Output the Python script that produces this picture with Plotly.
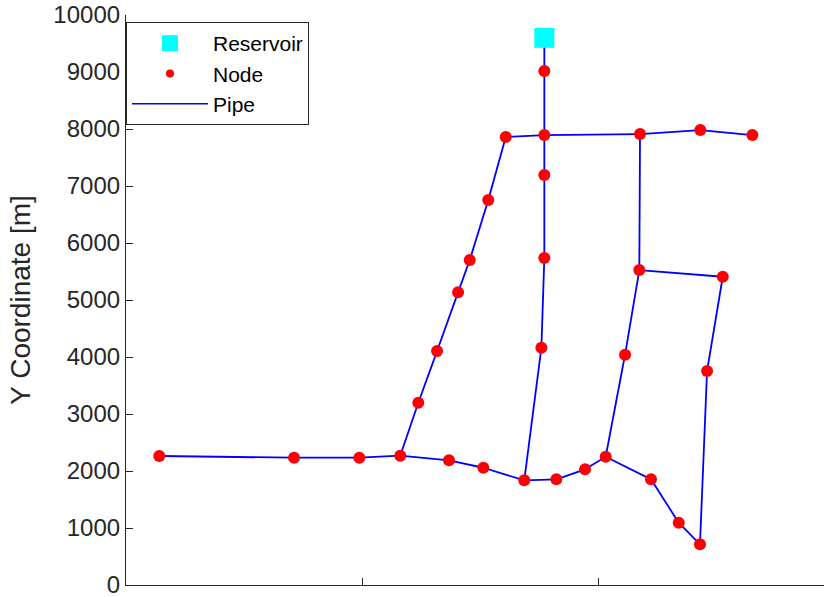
import plotly.graph_objects as go

# Reservoir
res_x = [3545]
res_y = [9600]

# Junction nodes (id -> coordinates)
node_ids = ["N1", "J2", "N3", "N4", "N5", "N6", "N7", "N8", "N9", "N10",
            "N11", "N12", "N13", "N14", "N15", "N16", "N17", "N18", "N19", "N20",
            "N21", "N22", "N23", "N24", "N25", "N26", "N27", "N28", "N29", "N30", "N31"]
node_x = [3545, 3545, 3218, 4356, 4867, 5308, 3545, 3070, 3545, 2913,
          2814, 3520, 2636, 2477, 2324, 282, 1424, 1977, 2737, 3028,
          3375, 3647, 3890, 4065, 4449, 4684, 4864, 4924, 5057, 4350, 4229]
node_y = [9016, 7893, 7858, 7911, 7981, 7893, 7191, 6753, 5736, 5701,
          5134, 4162, 4104, 3198, 2268, 2263, 2233, 2233, 2187, 2057,
          1836, 1854, 2029, 2250, 1854, 1093, 714, 3754, 5408, 5525, 4039]

# Pipes (start, end)
pipe_start = ["R", "N1", "J2", "J2", "N4", "N5", "J2", "N7", "N9", "N12",
              "N3", "N8", "N10", "N11", "N13", "N14", "N16", "N17", "N18", "N15",
              "N19", "N20", "N21", "N22", "N23", "N24", "N25", "N26", "N27", "N28",
              "N29", "N30", "N30", "N31"]
pipe_end = ["N1", "J2", "N3", "N4", "N5", "N6", "N7", "N9", "N12", "N21",
            "N8", "N10", "N11", "N13", "N14", "N15", "N17", "N18", "N15", "N19",
            "N20", "N21", "N22", "N23", "N24", "N25", "N26", "N27", "N28", "N29",
            "N30", "N4", "N31", "N24"]

y_ticks = list(range(0, 10001, 1000))
y_tick_labels = [str(v) for v in y_ticks]
x_ticks = [0, 2000, 4000]

coords = {"R": (res_x[0], res_y[0])}
for i, nid in enumerate(node_ids):
    coords[nid] = (node_x[i], node_y[i])

px, py = [], []
for a, b in zip(pipe_start, pipe_end):
    px += [coords[a][0], coords[b][0], None]
    py += [coords[a][1], coords[b][1], None]

FONT = "Liberation Sans, Arial, Helvetica, sans-serif"
AX = "#262626"

fig = go.Figure()
fig.add_trace(go.Scatter(x=px, y=py, mode="lines", line=dict(color="#0000FF", width=1.8),
                         showlegend=False, hoverinfo="skip"))
fig.add_trace(go.Scatter(x=node_x, y=node_y, mode="markers",
                         marker=dict(color="#FF0000", size=12), showlegend=False))
fig.add_trace(go.Scatter(x=res_x, y=res_y, mode="markers",
                         marker=dict(color="#00FFFF", size=20, symbol="square"), showlegend=False))
# legend entries
fig.add_trace(go.Scatter(x=[None], y=[None], mode="markers", name="Reservoir",
                         marker=dict(color="#00FFFF", size=19, symbol="square")))
fig.add_trace(go.Scatter(x=[None], y=[None], mode="markers", name="Node",
                         marker=dict(color="#FF0000", size=8)))
fig.add_trace(go.Scatter(x=[None], y=[None], mode="lines", name="Pipe",
                         line=dict(color="#0000FF", width=1.5)))

fig.update_layout(
    width=824, height=597,
    margin=dict(l=126, r=0, t=15, b=12),
    plot_bgcolor="white", paper_bgcolor="white",
    font=dict(family=FONT, color=AX),
    showlegend=True,
    legend=dict(x=0, y=0.9877, xanchor="left", yanchor="top",
                bordercolor=AX, borderwidth=1, bgcolor="white",
                font=dict(size=21, family=FONT, color="black"),
                itemwidth=76, tracegroupgap=0),
)
fig.update_xaxes(range=[0, 5915], tickvals=x_ticks, showticklabels=False,
                 ticks="inside", ticklen=7, tickcolor=AX, showline=True, linecolor=AX,
                 linewidth=1.2, showgrid=False, zeroline=False, mirror=False)
fig.update_yaxes(range=[0, 10000], tickvals=y_ticks, ticktext=y_tick_labels,
                 ticks="inside", ticklen=7, ticklabeloverflow="allow",
                 tickcolor=AX, showline=True, linecolor=AX, linewidth=1.2,
                 showgrid=False, zeroline=False, mirror=False,
                 tickfont=dict(size=24, family=FONT, color=AX),
                 title=dict(text="Y Coordinate [m]", font=dict(size=28, family=FONT, color=AX),
                            standoff=14))

fig.write_html("out.html")
